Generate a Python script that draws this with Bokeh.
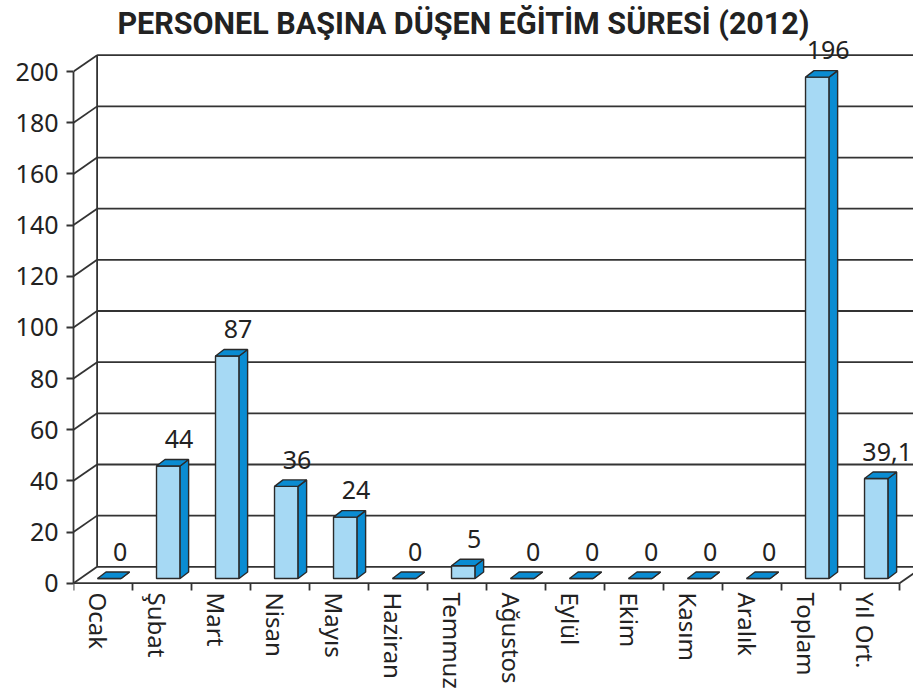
from bokeh.plotting import figure
from bokeh.models import Range1d, LinearAxis, FixedTicker, Label
from bokeh.embed import file_html
from bokeh.resources import INLINE
from bokeh.core.properties import value

# ---- data ----
months = ["Ocak", "Şubat", "Mart", "Nisan", "Mayıs", "Haziran", "Temmuz",
          "Ağustos", "Eylül", "Ekim", "Kasım", "Aralık", "Toplam", "Yıl Ort."]
values = [0, 44, 87, 36, 24, 0, 5, 0, 0, 0, 0, 0, 196, 39.1]
value_labels = ["0", "44", "87", "36", "24", "0", "5", "0", "0", "0", "0", "0", "196", "39,1"]
y_ticks = [0, 20, 40, 60, 80, 100, 120, 140, 160, 180, 200]
title_text = "PERSONEL BAŞINA DÜŞEN EĞİTİM SÜRESİ (2012)"

# ---- style / geometry (data units: category centre = i, value units on y) ----
LIGHT = "#A6D9F4"
DARK = "#0A8CD2"
EDGE = "#2a2a2a"
GRID = "#333333"
FONT = "Noto Sans"

n = len(months)
X0 = -0.5                 # front-left edge of floor
WDX, WDY = 0.40, 6.41     # wall depth offset
BAR_L, BAR_W = -0.093, 0.40
BAR_Y0 = 1.84
BDX, BDY = 0.144, 2.54    # bar depth offset
YMAX = 200
XE = 13.737
LAB_SHIFT = 0.07

p = figure(width=913, height=700, output_backend="svg", toolbar_location=None,
           x_range=Range1d(X0, XE), y_range=Range1d(-3.25, 227.8),
           x_axis_location=None, y_axis_location=None,
           min_border_left=73, min_border_right=0, min_border_top=0,
           min_border_bottom=109)
p.extra_x_ranges = {"labels": Range1d(X0 + LAB_SHIFT, XE + LAB_SHIFT)}
p.outline_line_color = None
p.xgrid.visible = False
p.ygrid.visible = False
p.background_fill_color = "white"

# back wall gridlines
p.segment(x0=[X0 + WDX] * len(y_ticks), y0=[t + WDY for t in y_ticks],
          x1=[XE] * len(y_ticks), y1=[t + WDY for t in y_ticks],
          line_color=GRID, line_width=1.8)
# left wall diagonals
p.segment(x0=[X0] * len(y_ticks), y0=y_ticks,
          x1=[X0 + WDX] * len(y_ticks), y1=[t + WDY for t in y_ticks],
          line_color=GRID, line_width=1.8)
# back wall left vertical
p.segment(x0=[X0 + WDX], y0=[WDY], x1=[X0 + WDX], y1=[YMAX + WDY],
          line_color=GRID, line_width=1.8)
# floor front and right edges
xr = X0 + n
p.segment(x0=[X0, xr], y0=[0, 0], x1=[xr, xr + WDX], y1=[0, WDY],
          line_color=GRID, line_width=1.8)
# category tick marks
p.segment(x0=[X0 + k for k in range(n + 1)], y0=[0] * (n + 1),
          x1=[X0 + k for k in range(n + 1)], y1=[-2.85] * (n + 1),
          line_color=GRID, line_width=1.8)

# bars
fx, fy, sx, sy, tx, ty = [], [], [], [], [], []
for i, v in enumerate(values):
    l = i + BAR_L
    r = l + BAR_W
    b = BAR_Y0
    t = BAR_Y0 + v
    fx.append([l, r, r, l]); fy.append([b, b, t, t])
    sx.append([r, r + BDX, r + BDX, r]); sy.append([b, b + BDY, t + BDY, t])
    tx.append([l, r, r + BDX, l + BDX]); ty.append([t, t, t + BDY, t + BDY])
p.patches(fx, fy, fill_color=LIGHT, line_color=EDGE, line_width=1.4)
p.patches(sx, sy, fill_color=DARK, line_color=EDGE, line_width=1.4)
p.patches(tx, ty, fill_color=DARK, line_color=EDGE, line_width=1.4)

# value labels
p.text(x=[i + 0.29 for i in range(n)], y=[v + 12.3 for v in values], text=value_labels,
       text_font=value(FONT), text_font_size="25px", text_color="#222222",
       text_align="center", text_baseline="alphabetic")

# y axis (front plane)
yaxis = LinearAxis(ticker=FixedTicker(ticks=y_ticks), bounds=(0, YMAX))
yaxis.axis_line_color = GRID
yaxis.axis_line_width = 1.8
yaxis.major_tick_line_color = GRID
yaxis.major_tick_line_width = 1.8
yaxis.major_tick_out = 7
yaxis.major_tick_in = 0
yaxis.minor_tick_line_color = None
yaxis.major_label_standoff = 8
yaxis.major_label_text_font = FONT
yaxis.major_label_text_font_size = "25px"
yaxis.major_label_text_color = "#222222"
p.add_layout(yaxis, "left")

# x axis (category labels)
xaxis = LinearAxis(ticker=FixedTicker(ticks=list(range(n))), x_range_name="labels")
xaxis.major_label_overrides = {i: m for i, m in enumerate(months)}
xaxis.major_label_orientation = "vertical"
xaxis.axis_line_color = None
xaxis.major_tick_line_color = None
xaxis.minor_tick_line_color = None
xaxis.major_tick_out = 0
xaxis.major_tick_in = 0
xaxis.major_label_standoff = 1
xaxis.major_label_text_font = FONT
xaxis.major_label_text_font_size = "24px"
xaxis.major_label_text_color = "#222222"
p.add_layout(xaxis, "below")

# title
p.add_layout(Label(x=6.11, y=218.8, text=title_text, text_align="center",
                   text_baseline="alphabetic",
                   text_font="Roboto", text_font_size="30.5px",
                   text_font_style="bold", text_color="#222222"))

open("out.html", "w").write(file_html(p, INLINE))
